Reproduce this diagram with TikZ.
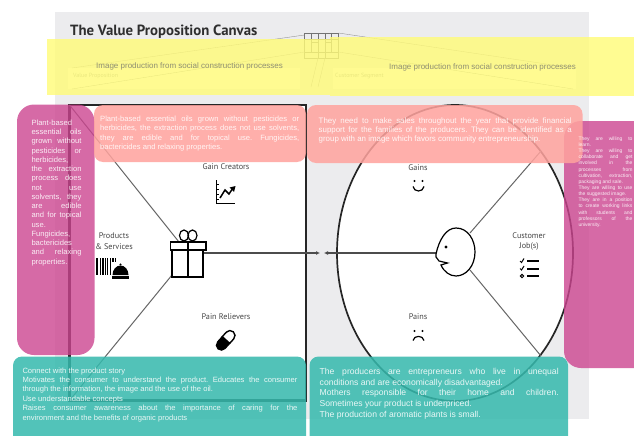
\documentclass[tikz,border=0pt]{standalone}
\usepackage{fontspec}
\setmainfont{Liberation Sans}
\newfontfamily\canvasfont{PT Sans}
\usetikzlibrary{arrows.meta}

\definecolor{canvasgray}{HTML}{ECECEE}
\definecolor{bandyellow}{HTML}{FFFB7A}
\definecolor{boxred}{HTML}{FFA39E}
\definecolor{boxpink}{HTML}{CC4590}
\definecolor{boxteal}{HTML}{36B9AD}
\definecolor{inktext}{HTML}{8F8F72}

\begin{document}
\frenchspacing
\begin{tikzpicture}[x=1pt,y=-1pt]
  \def\XLEFT{69.5}
  \def\XRIGHT{306}
  \def\YTOP{105}
  \def\YBOTTOM{400.5}
  \def\XMID{455}
  \def\YMID{253}
  \def\RX{118}
  \def\RY{148}

  \tikzset{
      notebox/.style={rounded corners=9pt,draw=none,fill opacity=0.86},
      notetext/.style={inner sep=0pt,align=justify,text=white,text opacity=0.88,anchor=north west},
      bandtext/.style={inner sep=0pt,text=inktext,font=\fontsize{8}{9}\selectfont},
      canvaslabel/.style={inner sep=0pt,align=center,text=black!72,font=\canvasfont\fontsize{8.2}{10.5}\selectfont},
      icon/.style={line width=1.2pt,black},
      spoke/.style={line width=1pt,black!60},
      axis/.style={line width=1.2pt,black!70,-{Latex[length=4pt,width=4pt]}},
  }

  \path [use as bounding box,clip] (0,0) rectangle (634,436);

  \fill [canvasgray] (55,12) rectangle (589,419);
  \fill [white] (\XLEFT,\YTOP) rectangle (\XRIGHT,\YBOTTOM);
  \fill [white] (68,68) rectangle (300,89);
  \fill [white] (333,68) rectangle (576,89);
  \fill [white] (\XMID,\YMID) ellipse ({\RX} and {\RY});

  \node (title) [inner sep=0pt,anchor=west,text=black!82,font=\canvasfont\bfseries\fontsize{14.8}{16}\selectfont]
    at (70,31.5) {The Value Proposition Canvas};

  % small canvas at the top
  \draw [black!55,line width=0.4pt] (304.5,33) rectangle (338.5,58);
  \draw [black!55,line width=0.4pt] (304.5,39) -- (338.5,39) (304.5,52) -- (338.5,52)
    (311,33) -- (311,52) (318,33) -- (318,58) (325,33) -- (325,58) (331.5,33) -- (331.5,52)
    (311,42) -- (318,42) (325,42) -- (331.5,42);
  \draw [black!45,line width=0.35pt] (304.5,35) -- (72,68) (304.5,52) -- (72,89)
    (338.5,33) -- (573,68) (338.5,52) -- (573,89)
    (318,58) -- (311,87) (325,58) -- (318,87);
  \node (leftseg) [inner sep=0pt,anchor=west,text=black!45,font=\canvasfont\fontsize{6}{7}\selectfont]
    at (73,76) {Value Proposition};
  \node (rightseg) [inner sep=0pt,anchor=west,text=black!45,font=\canvasfont\fontsize{6}{7}\selectfont]
    at (335,76) {Customer Segment};

  % the square
  \draw [line width=2.2pt,black!85] (\XLEFT,\YTOP) rectangle (\XRIGHT,\YBOTTOM);
  \coordinate (SqTL) at (\XLEFT,\YTOP);
  \coordinate (SqBL) at (\XLEFT,\YBOTTOM);
  \coordinate (GiftUp) at (179,242);
  \coordinate (GiftDown) at (172,275);
  \coordinate (GiftRight) at (204,\YMID);
  \coordinate (TipLeft) at (320,\YMID);
  \draw [spoke] (SqTL) -- (GiftUp);
  \draw [spoke] (SqBL) -- (GiftDown);
  \draw [axis] (GiftRight) -- (TipLeft);

  % the circle
  \draw [line width=1.7pt,black!85] (\XMID,\YMID) ellipse ({\RX} and {\RY});
  \coordinate (FaceUp) at (470,233);
  \coordinate (FaceDown) at (470,270);
  \coordinate (FaceLeft) at (436,\YMID);
  \coordinate (TipRight) at (324,\YMID);
  \coordinate (RimUp) at (541,151);
  \coordinate (RimDown) at (541,356);
  \draw [spoke] (FaceUp) -- (RimUp);
  \draw [spoke] (FaceDown) -- (RimDown);
  \draw [axis] (FaceLeft) -- (TipRight);

  % gift
  \draw [icon] (172,250) rectangle (203,277);
  \draw [icon,fill=white] (170.5,242) rectangle (206,250);
  \draw [line width=1.6pt] (188,242) -- (188,277);
  \draw [icon] (184,235.5) ellipse (4.5 and 5.5);
  \draw [icon] (192.5,235.5) ellipse (4.5 and 5.5);

  % face
  \draw [icon] (436,254) .. controls (439,240) and (446,228) .. (456,228)
    .. controls (468,228) and (475,240) .. (475,252)
    .. controls (475,266) and (466,276) .. (456,276)
    .. controls (450,276) and (444,272) .. (441,265)
    -- (447.5,263) -- (439,261) -- (436,257) -- cycle;
  \fill (446,247) circle (1.6);

  % gain creators
  \node (gaincreators) [canvaslabel] at (226,167) {Gain Creators};
  \draw [icon] (216.5,180) -- (216.5,203.5) -- (235,203.5);
  \draw [line width=1.5pt] (220,198) -- (225,190) -- (229,194) -- (233,188);
  \fill (235.5,186) -- (229.5,187.5) -- (234,192) -- cycle;
  \foreach \Y in {184,189,194,199} {
    \draw [line width=0.6pt] (216.5,\Y) -- (218.5,\Y);
  }

  % products and services
  \node (products) [canvaslabel] at (114,241) {Products\\\& Services};
  \foreach \X/\W in {97/2,100/1,102.5/2,105.5/1,107.5/1.4,110/1,112.5/2,115.5/1.4} {
    \draw [line width=\W pt] (\X,258) -- (\X,275);
  }
  \fill [white] (110.5,262) rectangle (129.5,279);
  \fill (112.5,275) arc (180:360:8 and 9.5) -- cycle;
  \fill (120.5,264.5) circle (1.1);
  \fill (112,276) rectangle (128.5,278.5);

  % pain relievers
  \node (painrelievers) [canvaslabel] at (226,316.5) {Pain Relievers};
  \begin{scope}[shift={(226,340)},rotate=48]
    \draw [line width=1.4pt,fill=white] (0,-5) -- (6,-5) arc (-90:90:5) -- (0,5) -- cycle;
    \fill (0,-5.6) -- (-7,-5.6) arc (270:90:5.6) -- (0,5.6) -- cycle;
  \end{scope}

  % gains
  \node (gains) [canvaslabel] at (418,167.5) {Gains};
  \fill (414.5,181) circle (1.2) (422.5,181) circle (1.2);
  \draw [icon] (413,186.5) .. controls (414,192.5) and (423,192.5) .. (424,186.5);

  % customer jobs
  \node (jobs) [canvaslabel] at (529,241.5) {Customer\\Job(s)};
  \foreach \Y in {261,269,276} {
    \draw [line width=2.4pt] (527,\Y) -- (539,\Y);
  }
  \draw [line width=1pt] (520,261) -- (521.5,262.5) -- (524,258.5);
  \draw [line width=1pt] (520,268.5) -- (521.5,270) -- (524,266);
  \draw [line width=1pt] (522,276) circle (1.7);

  % pains
  \node (pains) [canvaslabel] at (418,316.5) {Pains};
  \fill (414.5,331) circle (1.2) (422.5,331) circle (1.2);
  \draw [icon] (413,340.5) .. controls (414,335) and (423,335) .. (424,340.5);

  % yellow band
  \fill [bandyellow,fill opacity=0.82] (47,39) rectangle (330,95);
  \fill [bandyellow,fill opacity=0.82] (330,37) rectangle (634,96);
  \node (bandleft) [bandtext,anchor=west] at (96,66) {Image production from social construction processes};
  \node (bandright) [bandtext,anchor=west] at (389,67) {Image production from social construction processes};

  % pink
  \fill [notebox,boxpink,fill opacity=0.8,rounded corners=17pt] (17,104.5) rectangle (94.5,355);
  \fill [notebox,boxpink,fill opacity=0.8,rounded corners=17pt] (564,121) rectangle (670,368);

  % red
  \fill [notebox,boxred] (94,105) rectangle (306,162);
  \fill [notebox,boxred] (307,105) rectangle (582.5,163);

  % teal
  \fill [notebox,boxteal] (13,356.5) rectangle (306,450);
  \fill [notebox,boxteal] (309.5,356.5) rectangle (568,450);

  \node (pinkleft) [notetext,text width=50pt,font=\fontsize{7.6}{9.27}\selectfont] at (31.3,119.5)
    {Plant-based\\ essential oils\linebreak grown without\linebreak pesticides or\linebreak herbicides,\\
     the extraction\linebreak process does\linebreak not use\linebreak solvents, they\linebreak are edible\linebreak
     and for topical\linebreak use.\\ Fungicides,\\ bactericides\\ and relaxing\linebreak properties.};
  \node (redleft) [notetext,text width=199pt,font=\fontsize{7.6}{9.2}\selectfont] at (100,116)
    {Plant-based essential oils grown without pesticides or\linebreak herbicides, the extraction process does not use solvents,\linebreak
     they are edible and for topical use. Fungicides,\linebreak bactericides and relaxing properties.};
  \node (redright) [notetext,text width=253pt,font=\fontsize{7.9}{9}\selectfont] at (318.5,118)
    {They need to make sales throughout the year that provide financial\linebreak support for the families of the producers. They can be identified as a\linebreak
     group with an image which favors community entrepreneurship.};
  \node (pinkright) [notetext,text width=54pt,font=\fontsize{5}{6.15}\selectfont] at (578.3,136.5)
    {They are willing to\linebreak learn.\\ They are willing to\linebreak collaborate and get\linebreak involved in the\linebreak
     processes from\linebreak cultivation, extraction,\linebreak packaging and sale.\\ They are willing to use\linebreak the suggested image.\\
     They are in a position\linebreak to create working links\linebreak with students and\linebreak professors of the\linebreak university.};
  \node (tealleft) [notetext,text width=275pt,font=\fontsize{7.6}{9.1}\selectfont] at (22.3,368)
    {Connect with the product story\\ Motivates the consumer to understand the product. Educates the consumer\linebreak
     through the information, the image and the use of the oil.\\ Use understandable concepts\\[0.8pt]
     Raises consumer awareness about the importance of caring for the\linebreak environment and the benefits of organic products};
  \node (tealright) [notetext,text width=239pt,font=\fontsize{8.6}{10.7}\selectfont] at (319.5,368)
    {The producers are entrepreneurs who live in unequal\linebreak conditions and are economically disadvantaged.\\
     Mothers responsible for their home and children.\linebreak Sometimes your product is underpriced.\\
     The production of aromatic plants is small.};
\end{tikzpicture}
\end{document}
